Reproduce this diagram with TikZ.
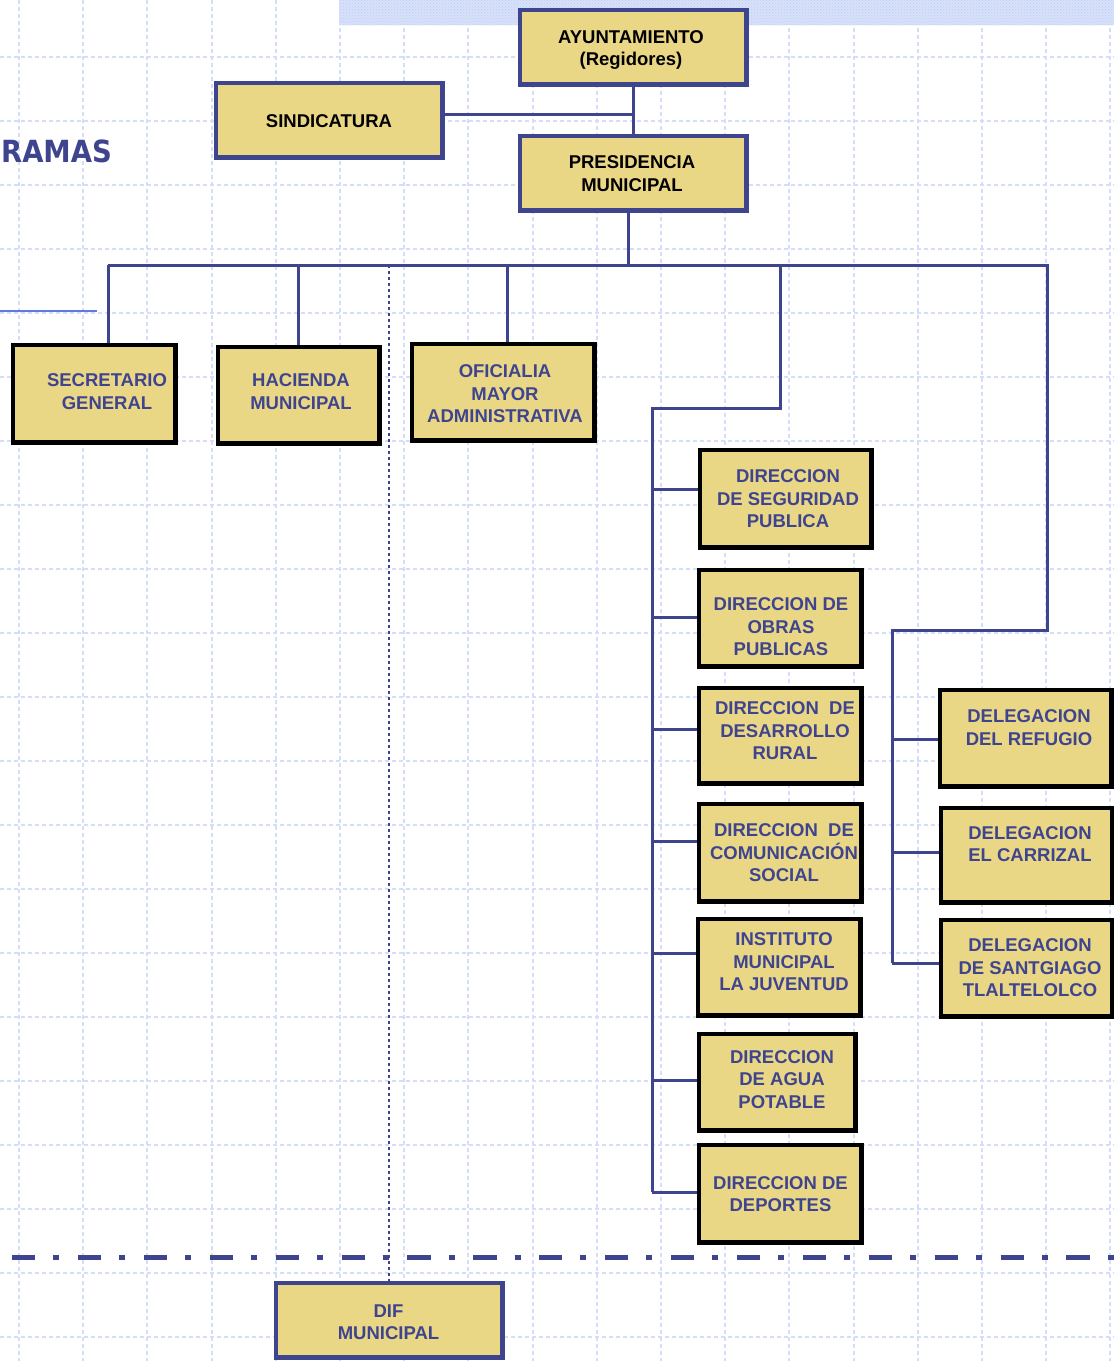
\documentclass[tikz,border=0pt]{standalone}
\usepackage{fontspec}
\setmainfont{Liberation Sans}
\newfontfamily\ramasfont{DejaVu Sans Condensed}
\usetikzlibrary{calc,patterns}
\definecolor{orgblue}{RGB}{63,68,143}
\definecolor{boxfill}{RGB}{234,215,134}
\definecolor{gridblue}{RGB}{212,222,250}
\definecolor{bandblue}{RGB}{216,225,250}
\definecolor{bandhatch}{RGB}{190,205,245}
\definecolor{lineblue}{RGB}{100,120,225}
\tikzset{
  box/.style={rectangle, draw=black, line width=3pt, fill=boxfill, inner sep=0pt},
  topbox/.style={box, draw=orgblue},
  txt/.style={font=\fontsize{18.5}{22.5}\selectfont\bfseries, text=orgblue, align=center, inner sep=0pt},
  toptxt/.style={txt, text=black},
  conn/.style={draw=orgblue, line width=3pt},
  gridline/.style={draw=gridblue, line width=2pt, dash pattern=on 4pt off 3pt},
}
\begin{document}
\begin{tikzpicture}[x=1pt,y=-1pt]
\useasboundingbox (0,0) rectangle (1114,1361);
\fill[white] (0,0) rectangle (1114,1361);
% background grid
\foreach \k in {0,...,17} { \draw[gridline] ({19+64.2*\k},0) -- ({19+64.2*\k},1361); }
\foreach \k in {0,...,20} { \draw[gridline] (0,{57+64*\k}) -- (1114,{57+64*\k}); }
\fill[bandblue] (339,0) rectangle (1114,25);
\fill[pattern=crosshatch dots, pattern color=bandhatch] (339,0) rectangle (1114,25);

% title fragment and left line
\node[anchor=base east, inner sep=0pt, text=orgblue, font=\ramasfont\bfseries\fontsize{30.5}{36}\selectfont] (ramas) at (112,162) {RAMAS};
\coordinate (ll) at (0,311);
\coordinate (lr) at (97,311);
\draw[lineblue, line width=2.5pt] (ll) -- (lr);

% boxes
\node[topbox, minimum width=225pt, minimum height=73pt] (ayunt) at (633,47) {};
\node[topbox, minimum width=225pt, minimum height=73pt] (sind) at (329,120) {};
\node[topbox, minimum width=225pt, minimum height=73pt] (pres) at (633,173) {};
\node[box, minimum width=161pt, minimum height=96pt] (sec) at (94,393.5) {};
\node[box, minimum width=160pt, minimum height=95pt] (hac) at (298.5,395) {};
\node[box, minimum width=181pt, minimum height=95pt] (ofi) at (503,392) {};
\node[box, minimum width=170pt, minimum height=96pt] (seg) at (785.5,498.5) {};
\node[box, minimum width=161pt, minimum height=95pt] (obras) at (780,618) {};
\node[box, minimum width=161pt, minimum height=94pt] (des) at (780,735.5) {};
\node[box, minimum width=161pt, minimum height=96pt] (com) at (780,852.5) {};
\node[box, minimum width=161pt, minimum height=95pt] (inst) at (779,967) {};
\node[box, minimum width=155pt, minimum height=95pt] (agua) at (777,1082) {};
\node[box, minimum width=161pt, minimum height=96pt] (dep) at (780,1193.5) {};
\node[box, minimum width=170pt, minimum height=95pt] (ref) at (1025.5,738) {};
\node[box, minimum width=170pt, minimum height=93pt] (carr) at (1026.5,855) {};
\node[box, minimum width=170pt, minimum height=95pt] (sant) at (1026.5,968) {};
\node[topbox, minimum width=225pt, minimum height=73pt] (dif) at (389,1320) {};

% bus and branches
\coordinate (busL) at (108,265);
\coordinate (busR) at (1047,265);
\coordinate (d1c) at (1047,630);
\coordinate (dk) at (892,630);
\coordinate (dkend) at (892,963);
\coordinate (b1) at (780,265);
\coordinate (b1c) at (780,408);
\coordinate (tk) at (652,408);
\coordinate (tkend) at (652,1192);
\coordinate (pb) at ([xshift=-5pt]pres.south);
\coordinate (ob) at ([xshift=4pt]ofi.north);
\coordinate (sj) at ($(sind.east)+(0,-6)$);

\draw[conn] (ayunt.south) -- (pres.north);
\draw[conn] (sj) -- (sj -| ayunt.south);
\draw[conn] (pb) -- (pb |- busL);
\draw[conn] (busL) -- (busR) -- (d1c) -- (dk) -- (dkend);
\draw[conn] (busL) -- (busL |- sec.north);
\draw[conn] (hac.north |- busL) -- (hac.north);
\draw[conn] (ob |- busL) -- (ob);
\draw[conn] (b1) -- (b1c) -- (tk) -- (tkend);
\foreach \n/\yy in {seg/489, obras/617, des/729, com/841, inst/953, agua/1080, dep/1192} {
  \coordinate (s-\n) at (652,\yy);
  \draw[conn] (s-\n) -- (s-\n -| \n.west);
}
\foreach \n/\yy in {ref/739, carr/852, sant/963} {
  \coordinate (s-\n) at (892,\yy);
  \draw[conn] (s-\n) -- (s-\n -| \n.west);
}
\draw[orgblue, line width=2.5pt, dash pattern=on 2.5pt off 3.5pt] (dif.north |- busL) -- (dif.north);

% dash-dot separator
\coordinate (ddL) at (12,1257);
\coordinate (ddR) at (1114,1257);
\draw[orgblue, line width=5pt, dash pattern=on 23.2pt off 18pt on 6pt off 18.7pt] (ddL) -- (ddR);

% box borders over connector ends
\foreach \b in {ayunt,sind,pres,dif} { \draw[orgblue, line width=3pt] (\b.north west) rectangle (\b.south east); }
\foreach \b in {sec,hac,ofi,seg,obras,des,com,inst,agua,dep,ref,carr,sant} { \draw[black, line width=3pt] (\b.north west) rectangle (\b.south east); }

% texts
\node[toptxt] (ayunt-t) at (631,50) {AYUNTAMIENTO\\(Regidores)};
\node[toptxt] (sind-t) at (329,121) {SINDICATURA};
\node[toptxt] (pres-t) at (632,173.5) {PRESIDENCIA\\MUNICIPAL};
\node[txt] (sec-t) at (107,391.5) {SECRETARIO\\GENERAL};
\node[txt] (hac-t) at (301,391.5) {HACIENDA\\MUNICIPAL};
\node[txt] (ofi-t) at (505,394) {OFICIALIA\\MAYOR\\ADMINISTRATIVA};
\node[txt] (seg-t) at (788,499) {DIRECCION\\DE SEGURIDAD\\PUBLICA};
\node[txt] (obras-t) at (781,627) {DIRECCION DE\\OBRAS\\PUBLICAS};
\node[txt] (des-t) at (785,731) {DIRECCION\ \ DE\\DESARROLLO\\RURAL};
\node[txt] (com-t) at (784,853) {DIRECCION\ \ DE\\COMUNICACIÓN\\SOCIAL};
\node[txt] (inst-t) at (784,962) {INSTITUTO\\MUNICIPAL\\LA JUVENTUD};
\node[txt] (agua-t) at (782,1079.5) {DIRECCION\\DE AGUA\\POTABLE};
\node[txt] (dep-t) at (780.5,1194) {DIRECCION DE\\DEPORTES};
\node[txt] (ref-t) at (1029,727.5) {DELEGACION\\DEL REFUGIO};
\node[txt] (carr-t) at (1030,844) {DELEGACION\\EL CARRIZAL};
\node[txt] (sant-t) at (1030,968) {DELEGACION\\DE SANTGIAGO\\TLALTELOLCO};
\node[txt] (dif-t) at (388.5,1322) {DIF\\MUNICIPAL};
\end{tikzpicture}
\end{document}
